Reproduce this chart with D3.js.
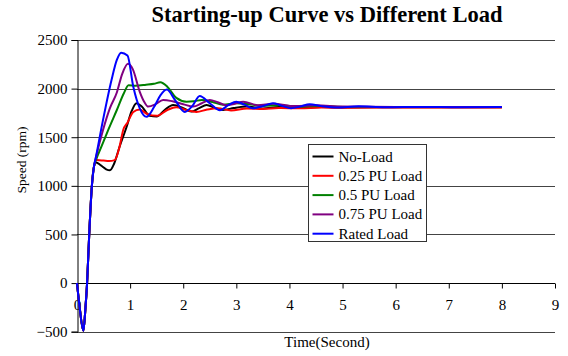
<!DOCTYPE html>
<html>
<head>
<meta charset="utf-8">
<script src="https://cdn.jsdelivr.net/npm/d3@7"></script>
<style>
  body { margin: 0; background: #fff; }
  svg, svg text { font-family: "Liberation Serif", "Times New Roman", serif; }
</style>
</head>
<body>
<svg id="chart" width="568" height="356"></svg>
<script>
// values: [time (s), speed (rpm)]
const startUp = [[0, 0], [0.05, -250], [0.12, -490], [0.16, -250], [0.19, 0], [0.23, 500], [0.28, 1000], [0.32, 1200]];

const noLoad = [[0.36, 1240], [0.45, 1210], [0.55, 1170], [0.62, 1160], [0.7, 1230], [0.8, 1400], [0.93, 1600],
  [1.03, 1770], [1.12, 1850], [1.22, 1815], [1.37, 1720], [1.5, 1712], [1.65, 1780], [1.81, 1832], [2.0, 1800],
  [2.15, 1764], [2.3, 1800], [2.44, 1832], [2.6, 1800], [2.75, 1781], [2.95, 1800], [3.2, 1815], [3.5, 1795],
  [3.8, 1810], [4.2, 1800], [4.6, 1810], [5, 1806], [6, 1808], [7, 1808], [8, 1808]];

const load025 = [[0.37, 1265], [0.5, 1260], [0.6, 1255], [0.71, 1265], [0.8, 1400], [0.87, 1575], [0.95, 1650],
  [1.06, 1760], [1.18, 1785], [1.32, 1740], [1.5, 1720], [1.7, 1780], [1.87, 1808], [2.05, 1780], [2.25, 1760],
  [2.45, 1785], [2.65, 1798], [2.9, 1775], [3.2, 1795], [3.5, 1790], [3.8, 1800], [4.2, 1798], [4.6, 1805],
  [5, 1803], [6, 1806], [7, 1806], [8, 1806]];

const load05 = [[0.36, 1270], [0.45, 1390], [0.6, 1590], [0.75, 1780], [0.88, 1950], [0.97, 2035], [1.1, 2030],
  [1.3, 2040], [1.45, 2050], [1.57, 2065], [1.7, 2020], [1.87, 1905], [2.06, 1866], [2.2, 1870], [2.35, 1884],
  [2.55, 1862], [2.75, 1835], [3.0, 1850], [3.2, 1842], [3.5, 1822], [3.8, 1830], [4.2, 1815], [4.6, 1822],
  [5, 1812], [6, 1810], [7, 1810], [8, 1810]];

const load075 = [[0.36, 1300], [0.49, 1575], [0.62, 1800], [0.75, 1960], [0.85, 2150], [0.96, 2255],
  [1.05, 2200], [1.18, 1970], [1.27, 1860], [1.34, 1815], [1.48, 1840], [1.62, 1884], [1.8, 1870], [2.0, 1840],
  [2.19, 1815], [2.35, 1850], [2.5, 1884], [2.65, 1860], [2.81, 1830], [2.97, 1845], [3.13, 1866], [3.4, 1830],
  [3.7, 1845], [4.1, 1820], [4.5, 1828], [5, 1815], [6, 1812], [7, 1812], [8, 1812]];

const ratedLoad = [[0.35, 1280], [0.49, 1678], [0.65, 2089], [0.75, 2295], [0.83, 2370], [0.95, 2340],
  [1.06, 2020], [1.18, 1800], [1.31, 1710], [1.45, 1810], [1.57, 1930], [1.69, 1990], [1.85, 1880],
  [2.03, 1760], [2.17, 1820], [2.31, 1925], [2.5, 1850], [2.69, 1778], [2.85, 1830], [3.0, 1866], [3.15, 1835],
  [3.31, 1798], [3.5, 1820], [3.69, 1850], [3.85, 1825], [4.03, 1798], [4.2, 1815], [4.38, 1840], [4.6, 1820],
  [4.9, 1805], [5.3, 1818], [5.8, 1808], [6.5, 1812], [7.2, 1808], [8, 1810]];

const seriesNames = ["No-Load", "0.25 PU Load", "0.5 PU Load", "0.75 PU Load", "Rated Load"];
const seriesData = [noLoad, load025, load05, load075, ratedLoad];
const seriesColors = ["#000000", "#ff0000", "#008000", "#800080", "#0000ff"];

const xTicks = [0, 1, 2, 3, 4, 5, 6, 7, 8, 9];
const yTicks = [-500, 0, 500, 1000, 1500, 2000, 2500];

const svg = d3.select("#chart");

const xScale = d3.scaleLinear([0, 9], [77, 555]);
const yScale = d3.scaleLinear([-500, 2500], [331.7, 40]);

// title
svg.append("text")
  .attr("x", 327).attr("y", 22)
  .attr("text-anchor", "middle")
  .attr("font-size", 22.5).attr("font-weight", "bold")
  .text("Starting-up Curve vs Different Load");

// horizontal gridlines
svg.append("g")
  .selectAll("line")
  .data(yTicks)
  .join("line")
  .attr("x1", xScale(0)).attr("x2", xScale(9))
  .attr("y1", d => Math.round(yScale(d)) + 0.5)
  .attr("y2", d => Math.round(yScale(d)) + 0.5)
  .attr("stroke", d => d === 0 ? "#000" : "#444")
  .attr("stroke-width", 1);

// y axis
svg.append("g")
  .attr("transform", `translate(${xScale(0) + 0.5},0)`)
  .call(d3.axisLeft(yScale).tickValues(yTicks).tickSize(6).tickPadding(4).tickFormat(d3.format("d")))
  .attr("font-family", null).attr("font-size", 15)
  .call(g => g.selectAll("path, line").attr("stroke", "#000"))
  .call(g => g.selectAll("text").attr("fill", "#000"));

// x axis on the zero line
svg.append("g")
  .attr("transform", `translate(0,${Math.round(yScale(0)) + 0.5})`)
  .call(d3.axisBottom(xScale).tickValues(xTicks).tickSize(5).tickPadding(11).tickFormat(d3.format("d")))
  .attr("font-family", null).attr("font-size", 15)
  .call(g => g.select(".domain").remove())
  .call(g => g.selectAll("line").attr("stroke", "#000"))
  .call(g => g.selectAll("text").attr("fill", "#000"));

// axis labels
svg.append("text")
  .attr("x", 327).attr("y", 347)
  .attr("text-anchor", "middle")
  .attr("font-size", 15)
  .text("Time(Second)");

svg.append("text")
  .attr("transform", "translate(26,160) rotate(-90)")
  .attr("text-anchor", "middle")
  .attr("font-size", 13.5)
  .text("Speed (rpm)");

// lines
const line = d3.line()
  .x(d => xScale(d[0]))
  .y(d => yScale(d[1]))
  .curve(d3.curveMonotoneX);

svg.append("g")
  .selectAll("path")
  .data(seriesData)
  .join("path")
  .attr("fill", "none")
  .attr("stroke", (d, i) => seriesColors[i])
  .attr("stroke-width", 2)
  .attr("stroke-linejoin", "round")
  .attr("d", d => line(startUp.concat(d)));

// legend
const legend = svg.append("g").attr("transform", "translate(308.5,144.5)");
legend.append("rect")
  .attr("width", 118).attr("height", 97)
  .attr("fill", "#fff").attr("stroke", "#333");

const rows = legend.selectAll("g.row")
  .data(seriesNames)
  .join("g")
  .attr("class", "row")
  .attr("transform", (d, i) => `translate(0,${12 + i * 19.3})`);

rows.append("line")
  .attr("x1", 4).attr("x2", 25)
  .attr("stroke", (d, i) => seriesColors[i])
  .attr("stroke-width", 2);

rows.append("text")
  .attr("x", 30).attr("y", 5)
  .attr("font-size", 15)
  .text(d => d);
</script>
</body>
</html>
